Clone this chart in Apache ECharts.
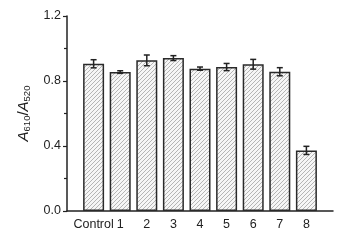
<!DOCTYPE html>
<html>
<head>
    <meta charset="utf-8">
    <script src="https://cdn.jsdelivr.net/npm/echarts@6/dist/echarts.min.js"></script>
</head>
<body style="margin:0">
<div id="main" style="width: 351px;height:241px;"></div>
<script type="text/javascript">
    // categories: padded with empty slots at both ends, like the original axis
    var categories = ['', 'Control', '1', '2', '3', '4', '5', '6', '7', '8', ''];
    var ratio = [null, 0.906, 0.855, 0.927, 0.941, 0.876, 0.886, 0.903, 0.857, 0.373, null];
    var errs = [null, 0.025, 0.008, 0.033, 0.015, 0.010, 0.022, 0.030, 0.025, 0.025, null];

    // hatch pattern for the bars
    var pat = document.createElement('canvas');
    pat.width = 4; pat.height = 4;
    var ctx = pat.getContext('2d');
    ctx.fillStyle = '#f6f6f6';
    ctx.fillRect(0, 0, 4, 4);
    ctx.strokeStyle = '#999';
    ctx.lineWidth = 0.7;
    ctx.beginPath();
    ctx.moveTo(0, 4); ctx.lineTo(4, 0);
    ctx.moveTo(-1, 1); ctx.lineTo(1, -1);
    ctx.moveTo(3, 5); ctx.lineTo(5, 3);
    ctx.stroke();

    var errData = [];
    for (var i = 0; i < categories.length; i++) {
        if (ratio[i] != null) errData.push([i, ratio[i] - errs[i], ratio[i] + errs[i]]);
    }

    var myChart = echarts.init(document.getElementById('main'));
    var option = {
        animation: false,
        grid: {left: 67, right: 18, top: 16, bottom: 30},
        xAxis: {
            type: 'category',
            data: categories,
            boundaryGap: false,
            axisLine: {lineStyle: {color: '#222', width: 1.5}},
            axisTick: {show: false},
            axisLabel: {color: '#222', fontSize: 12.5, fontFamily: 'Liberation Sans', margin: 7, interval: 0}
        },
        yAxis: {
            type: 'value',
            min: 0,
            max: 1.2,
            interval: 0.4,
            name: '{i|A}{s|610}{n|/}{i|A}{s|520}',
            nameLocation: 'middle',
            nameGap: 33,
            nameTextStyle: {
                rich: {
                    i: {fontStyle: 'italic', fontSize: 15, color: '#222', fontFamily: 'Liberation Sans'},
                    n: {fontSize: 15, color: '#222', fontFamily: 'Liberation Sans'},
                    s: {fontSize: 9.5, color: '#222', fontFamily: 'Liberation Sans', verticalAlign: 'bottom', padding: [8, 0, 0, 0]}
                }
            },
            axisLine: {show: true, lineStyle: {color: '#222', width: 1.5}},
            axisTick: {show: true, length: 4, lineStyle: {color: '#222', width: 1.2}},
            minorTick: {show: true, splitNumber: 2, length: 3, lineStyle: {color: '#222', width: 1.2}},
            splitLine: {show: false},
            axisLabel: {color: '#222', fontSize: 12.5, fontFamily: 'Liberation Sans', margin: 6,
                formatter: function (v) { return v.toFixed(1); }}
        },
        series: [
            {
                type: 'bar',
                data: ratio,
                barWidth: 21,
                itemStyle: {
                    color: {image: pat, repeat: 'repeat'},
                    borderColor: '#2a2a2a',
                    borderWidth: 1.5
                }
            },
            {
                type: 'custom',
                data: errData,
                z: 10,
                renderItem: function (params, api) {
                    var x = api.value(0);
                    var lo = api.coord([x, api.value(1)]);
                    var hi = api.coord([x, api.value(2)]);
                    var hw = 3;
                    var st = {stroke: '#222', lineWidth: 1.5};
                    return {
                        type: 'group',
                        children: [
                            {type: 'line', shape: {x1: lo[0], y1: lo[1], x2: hi[0], y2: hi[1]}, style: st},
                            {type: 'line', shape: {x1: lo[0] - hw, y1: lo[1], x2: lo[0] + hw, y2: lo[1]}, style: st},
                            {type: 'line', shape: {x1: hi[0] - hw, y1: hi[1], x2: hi[0] + hw, y2: hi[1]}, style: st}
                        ]
                    };
                }
            }
        ]
    };
    myChart.setOption(option);
</script>
</body>
</html>
